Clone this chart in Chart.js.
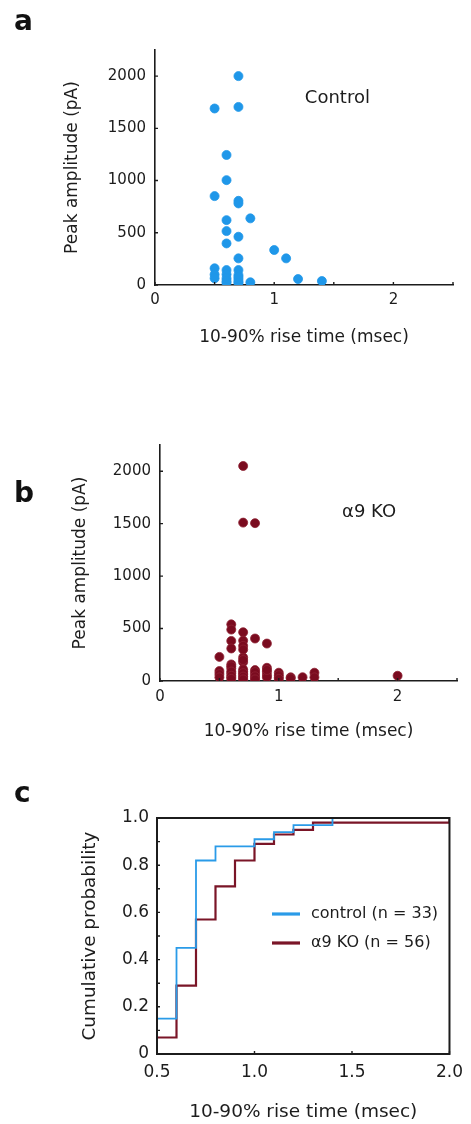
<!DOCTYPE html>
<html><head><meta charset="utf-8">
<script src="https://cdn.jsdelivr.net/npm/chart.js@4.4.1/dist/chart.umd.min.js"></script>
<style>
html,body{margin:0;padding:0;background:#fff;}
#wrap{position:relative;width:471px;height:1124px;overflow:hidden;font-family:'DejaVu Sans',sans-serif;}
canvas{position:absolute;left:0;}
.lbl{position:absolute;left:14px;font-weight:bold;font-size:28px;color:#111;line-height:1;}
</style></head><body>
<div id="wrap">
<canvas id="ca" width="471" height="360" style="top:0"></canvas>
<canvas id="cb" width="471" height="360" style="top:400px"></canvas>
<canvas id="cc" width="471" height="344" style="top:780px"></canvas>
<div class="lbl" style="top:7px">a</div>
<div class="lbl" style="top:479px">b</div>
<div class="lbl" style="top:779px">c</div>
</div>
<script>
// ---------------- data ----------------
const controlRise = [0.5,0.5,0.5,0.5,0.5,
  0.6,0.6,0.6,0.6,0.6,0.6,0.6,0.6,0.6,0.6,
  0.7,0.7,0.7,0.7,0.7,0.7,0.7,0.7,0.7,0.7,0.7,0.7,
  0.8,0.8, 1.0, 1.1, 1.2, 1.4];
const controlPeak = [1690,851,160,100,64,
  1245,1004,621,516,398,143,102,64,38,20,
  2000,1705,806,781,462,255,143,95,54,30,75,20,
  638,26, 335, 255, 57, 38];

const koRise = [0.5,0.5,0.5,0.5,
  0.6,0.6,0.6,0.6,0.6,0.6,0.6,0.6,0.6,0.6,0.6,0.6,
  0.7,0.7,0.7,0.7,0.7,0.7,0.7,0.7,0.7,0.7,0.7,0.7,0.7,0.7,0.7,0.7,
  0.8,0.8,0.8,0.8,0.8,0.8,0.8,0.8,
  0.9,0.9,0.9,0.9,0.9,0.9,
  1.0,1.0,1.0,1.0,
  1.1,1.1, 1.2, 1.3,1.3, 2.0];
const koPeak = [230,95,66,35,
  540,490,382,310,158,120,73,35,140,90,50,20,
  2050,1510,465,385,335,225,180,92,60,28,300,200,110,75,42,15,
  1505,405,104,66,26,85,45,15,
  357,126,88,57,35,105,
  79,35,55,20,
  35,25, 36, 79,35, 50];

// cumulative probability curves (step values)
const cdfControlRise = [0.5,0.6,0.7,0.8,0.9,1.0,1.1,1.2,1.3,1.4,2.0];
const cdfControl     = [0.15,0.45,0.82,0.88,0.88,0.91,0.94,0.97,0.97,1.0,1.0];
const cdfKoRise = [0.5,0.6,0.7,0.8,0.9,1.0,1.1,1.2,1.3,2.0];
const cdfKo     = [0.07,0.29,0.57,0.71,0.82,0.89,0.93,0.95,0.98,1.0];

// ticks and tick labels
const riseTickLabelsAB = [0,1,2];
const ampTicks = [0,500,1000,1500,2000];
const cdfXTickLabels = ['0.5','1.0','1.5','2.0'];
const cdfYTickLabels = ['0','0.2','0.4','0.6','0.8','1.0'];

const seriesNames = ['control (n = 33)', '\u03b19 KO (n = 56)'];
const panelNotes = ['Control', '\u03b19 KO'];

// ---------------- styling ----------------
const BLUE = '#1f97e9';
const RED = '#7a0b1f';
const INK = '#1c1c1c';
Chart.defaults.font.family = "'DejaVu Sans', sans-serif";
Chart.defaults.color = INK;
Chart.defaults.animation = false;

// inward tick marks + optional frame
const axisDeco = {
  id: 'axisDeco',
  afterDraw(chart, args, o) {
    const ctx = chart.ctx, ca = chart.chartArea;
    ctx.save();
    ctx.strokeStyle = INK;
    ctx.lineWidth = o.tickWidth || 1.4;
    const len = o.len || 3;
    const xs = chart.scales.x, ys = chart.scales.y;
    ctx.beginPath();
    xs.ticks.forEach(t => {
      if (t.label === null || t.label === undefined) return;
      const p = xs.getPixelForValue(t.value);
      ctx.moveTo(p, ca.bottom); ctx.lineTo(p, ca.bottom - len);
    });
    ys.ticks.forEach(t => {
      if (t.label === null || t.label === undefined) return;
      const p = ys.getPixelForValue(t.value);
      ctx.moveTo(ca.left, p); ctx.lineTo(ca.left + len, p);
    });
    ctx.stroke();
    if (o.box) {
      ctx.lineWidth = o.boxWidth || 2;
      ctx.strokeRect(ca.left, ca.top, ca.right - ca.left, ca.bottom - ca.top);
    }
    ctx.restore();
  }
};

// text note at data coordinates
const noteText = {
  id: 'noteText',
  afterDraw(chart, args, o) {
    if (!o.text) return;
    const ctx = chart.ctx;
    ctx.save();
    ctx.fillStyle = INK;
    ctx.font = o.size + "px 'DejaVu Sans', sans-serif";
    ctx.textAlign = 'center';
    ctx.textBaseline = 'middle';
    ctx.fillText(o.text, chart.scales.x.getPixelForValue(o.x), chart.scales.y.getPixelForValue(o.y));
    ctx.restore();
  }
};

// legend inside chart area
const innerLegend = {
  id: 'innerLegend',
  afterDraw(chart, args, o) {
    if (!o.show) return;
    const ctx = chart.ctx, ca = chart.chartArea;
    ctx.save();
    ctx.font = o.size + "px 'DejaVu Sans', sans-serif";
    ctx.textBaseline = 'middle';
    ctx.textAlign = 'left';
    chart.data.datasets.forEach((ds, i) => {
      const y = ca.top + o.top + i * o.gap;
      const x0 = ca.left + o.left;
      ctx.strokeStyle = ds.borderColor;
      ctx.lineWidth = 3.2;
      ctx.beginPath(); ctx.moveTo(x0, y); ctx.lineTo(x0 + o.lineLen, y); ctx.stroke();
      ctx.fillStyle = INK;
      ctx.fillText(ds.label, x0 + o.lineLen + o.textGap, y);
    });
    ctx.restore();
  }
};
Chart.register(axisDeco, noteText, innerLegend);

function scatterChart(id, xs, ys, color, border, pad, yw, xh, titleXPad, titleYPad, xTickPad, note) {
  return new Chart(document.getElementById(id), {
    type: 'scatter',
    data: { datasets: [{
      data: xs.map((x, i) => ({ x, y: ys[i] })),
      backgroundColor: color, borderColor: border, borderWidth: 0.8,
      pointRadius: 4.5, pointHoverRadius: 4.5
    }]},
    options: {
      responsive: false,
      layout: { padding: pad },
      plugins: { legend: { display: false }, tooltip: { enabled: false },
        axisDeco: { len: 3, tickWidth: 1.4 },
        noteText: note },
      scales: {
        x: {
          type: 'linear', min: 0, max: 2.5,
          afterFit: s => { s.height = xh; },
          border: { display: true, color: INK, width: 1.6 },
          grid: { display: false, drawTicks: false },
          ticks: { stepSize: 0.5, padding: xTickPad, font: { size: 15 }, maxRotation: 0, autoSkip: false,
            callback: v => riseTickLabelsAB.includes(v) ? String(v) : '' },
          title: { display: true, text: '10-90% rise time (msec)', font: { size: 17 }, padding: { top: 0, bottom: titleXPad } }
        },
        y: {
          type: 'linear', min: 0, max: 2250,
          afterFit: s => { s.width = yw; },
          afterBuildTicks: s => { s.ticks = ampTicks.map(v => ({ value: v })); },
          border: { display: true, color: INK, width: 1.6 },
          grid: { display: false, drawTicks: false },
          ticks: { padding: 9, font: { size: 15 }, autoSkip: false,
            callback: v => String(v) },
          title: { display: true, text: 'Peak amplitude (pA)', font: { size: 17 }, padding: { top: titleYPad, bottom: 0 } }
        }
      }
    }
  });
}

scatterChart('ca', controlRise, controlPeak, BLUE, BLUE,
  { left: 0, right: 18, top: 50, bottom: 0 }, 155, 75, 12, 62, 6,
  { text: panelNotes[0], x: 1.53, y: 1790, size: 18 });

scatterChart('cb', koRise, koPeak, RED, '#8e2234',
  { left: 0, right: 14, top: 45, bottom: 0 }, 160, 79, 18, 70, 7,
  { text: panelNotes[1], x: 1.76, y: 1605, size: 18 });

new Chart(document.getElementById('cc'), {
  type: 'line',
  data: { datasets: [
    { label: seriesNames[0], data: cdfControlRise.map((x, i) => ({ x, y: cdfControl[i] })),
      borderColor: '#2a9be8', borderWidth: 1.8, pointRadius: 0, stepped: true, fill: false },
    { label: seriesNames[1], data: cdfKoRise.map((x, i) => ({ x, y: cdfKo[i] })),
      borderColor: '#7a1527', borderWidth: 2.2, pointRadius: 0, stepped: true, fill: false }
  ]},
  options: {
    responsive: false,
    layout: { padding: { left: 0, right: 15, top: 38, bottom: 0 } },
    plugins: { legend: { display: false }, tooltip: { enabled: false },
      axisDeco: { len: 3, tickWidth: 1.4, box: true, boxWidth: 2 },
      innerLegend: { show: true, left: 115, top: 96, gap: 29, lineLen: 28, textGap: 11, size: 16 } },
    scales: {
      x: {
        type: 'linear', min: 0.5, max: 2.0,
        afterFit: s => { s.height = 70; },
        border: { display: false },
        grid: { display: false, drawTicks: false },
        ticks: { stepSize: 0.5, padding: 8, font: { size: 17 }, maxRotation: 0, autoSkip: false,
          callback: v => cdfXTickLabels.includes(v.toFixed(1)) ? v.toFixed(1) : '' },
        title: { display: true, text: '10-90% rise time (msec)', font: { size: 18.5 }, padding: { top: 0, bottom: 1 } }
      },
      y: {
        type: 'linear', min: 0, max: 1.0,
        afterFit: s => { s.width = 157; },
        border: { display: false },
        grid: { display: false, drawTicks: false },
        ticks: { stepSize: 0.1, padding: 8, font: { size: 17 }, autoSkip: false,
          callback: v => { const s = v === 0 ? '0' : v.toFixed(1); return cdfYTickLabels.includes(s) ? s : ''; } },
        title: { display: true, text: 'Cumulative probability', font: { size: 18.4 }, padding: { top: 79, bottom: 0 } }
      }
    }
  }
});
</script>
</body></html>
